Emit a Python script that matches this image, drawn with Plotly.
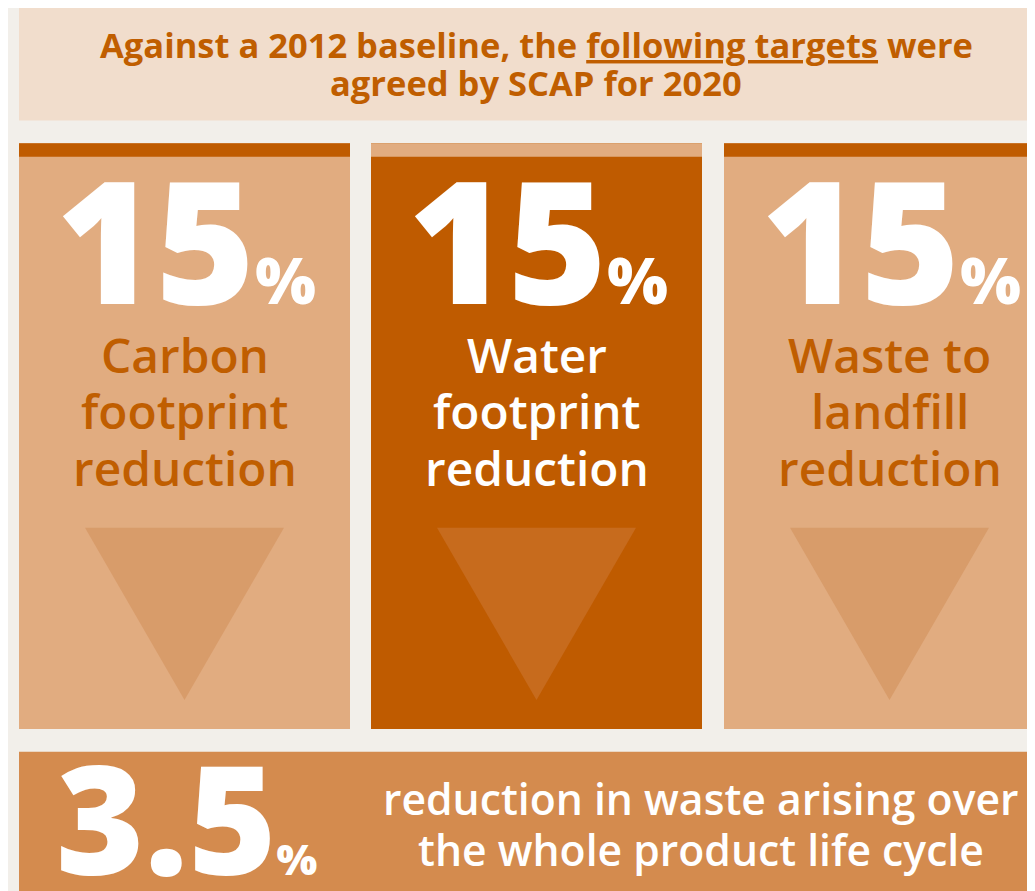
import plotly.graph_objects as go

# --- data ---
targets = [15, 15, 15]
target_labels = [
    ["Carbon", "footprint", "reduction"],
    ["Water", "footprint", "reduction"],
    ["Waste to", "landfill", "reduction"],
]
highlight = [False, True, False]
waste_target = 3.5
waste_text = ["reduction in waste arising over", "the whole product life cycle"]
title_lines = ["Against a 2012 baseline, the <span style='text-decoration:underline'>following targets</span> were",
               "agreed by SCAP for 2020"]

# --- colours ---
BG = "#F2EFEA"
TITLE_BG = "#F1DDCC"
DARK = "#BF5B00"
LIGHT = "#E1AC80"
BOTTOM = "#D48B4E"
TRI_LIGHT = "#D89C6A"
TRI_DARK = "#C76B1D"
FONT = "Open Sans"

W, H = 1035, 891
OFF = 8  # page body margin, coordinates below are window pixels
card_x0 = [19, 371, 724]
card_w = 331

fig = go.Figure()
shapes = []
ann = []

# title box
shapes.append(dict(type="rect", x0=19, x1=W + 5, y0=6, y1=120.5, fillcolor=TITLE_BG, line_width=0, layer="below"))
for i, line in enumerate(title_lines):
    ann.append(dict(x=536, y=44 + i * 38, text=line, showarrow=False, xanchor="center", yanchor="middle",
                    font=dict(family=FONT, size=34.5, color="#C05E00", weight=700)))

for i, (val, lab, hi) in enumerate(zip(targets, target_labels, highlight)):
    x0 = card_x0[i]
    x1 = x0 + card_w
    cx = (x0 + x1) / 2
    body = DARK if hi else LIGHT
    bar = LIGHT if hi else DARK
    shapes.append(dict(type="rect", x0=x0, x1=x1, y0=143.3, y1=729, fillcolor=body, line_width=0, layer="below"))
    shapes.append(dict(type="rect", x0=x0, x1=x1, y0=143.3, y1=156.7, fillcolor=bar, line_width=0, layer="below"))
    # downward triangle
    fig.add_trace(go.Scatter(x=[cx - 99.5, cx + 99.5, cx, cx - 99.5], y=[527.7, 527.7, 700, 527.7],
                             fill="toself", fillcolor=TRI_DARK if hi else TRI_LIGHT, mode="lines",
                             line=dict(width=0), hoverinfo="skip", showlegend=False))
    ann.append(dict(x=cx + 1, y=238, text=f"{val}<span style='font-size:64px'>%</span>", showarrow=False,
                    xanchor="center", yanchor="middle",
                    font=dict(family=FONT, size=170, color="white", weight=800)))
    txtc = "white" if hi else "#C05E00"
    for j, t in enumerate(lab):
        ann.append(dict(x=cx, y=354 + j * 56.5, text=t, showarrow=False, xanchor="center", yanchor="middle",
                        font=dict(family=FONT, size=47.8, color=txtc, weight=600)))

# bottom band
shapes.append(dict(type="rect", x0=19, x1=W + 5, y0=751.7, y1=H + 5, fillcolor=BOTTOM, line_width=0, layer="below"))
ann.append(dict(x=186, y=816, text=f"{waste_target}<span style='font-size:43px'>%</span>", showarrow=False,
                xanchor="center", yanchor="middle",
                font=dict(family=FONT, size=151, color="white", weight=800)))
for j, t in enumerate(waste_text):
    ann.append(dict(x=701, y=798 + j * 51.5, text=t, showarrow=False, xanchor="center", yanchor="middle",
                    font=dict(family=FONT, size=42.7, color="white", weight=600)))

fig.update_layout(
    width=W - OFF, height=H - OFF, margin=dict(l=0, r=0, t=0, b=0),
    paper_bgcolor=BG, plot_bgcolor=BG,
    shapes=shapes, annotations=ann, showlegend=False,
    xaxis=dict(range=[OFF, W], visible=False, fixedrange=True),
    yaxis=dict(range=[H, OFF], visible=False, fixedrange=True),
)
fig.write_html("out.html")
